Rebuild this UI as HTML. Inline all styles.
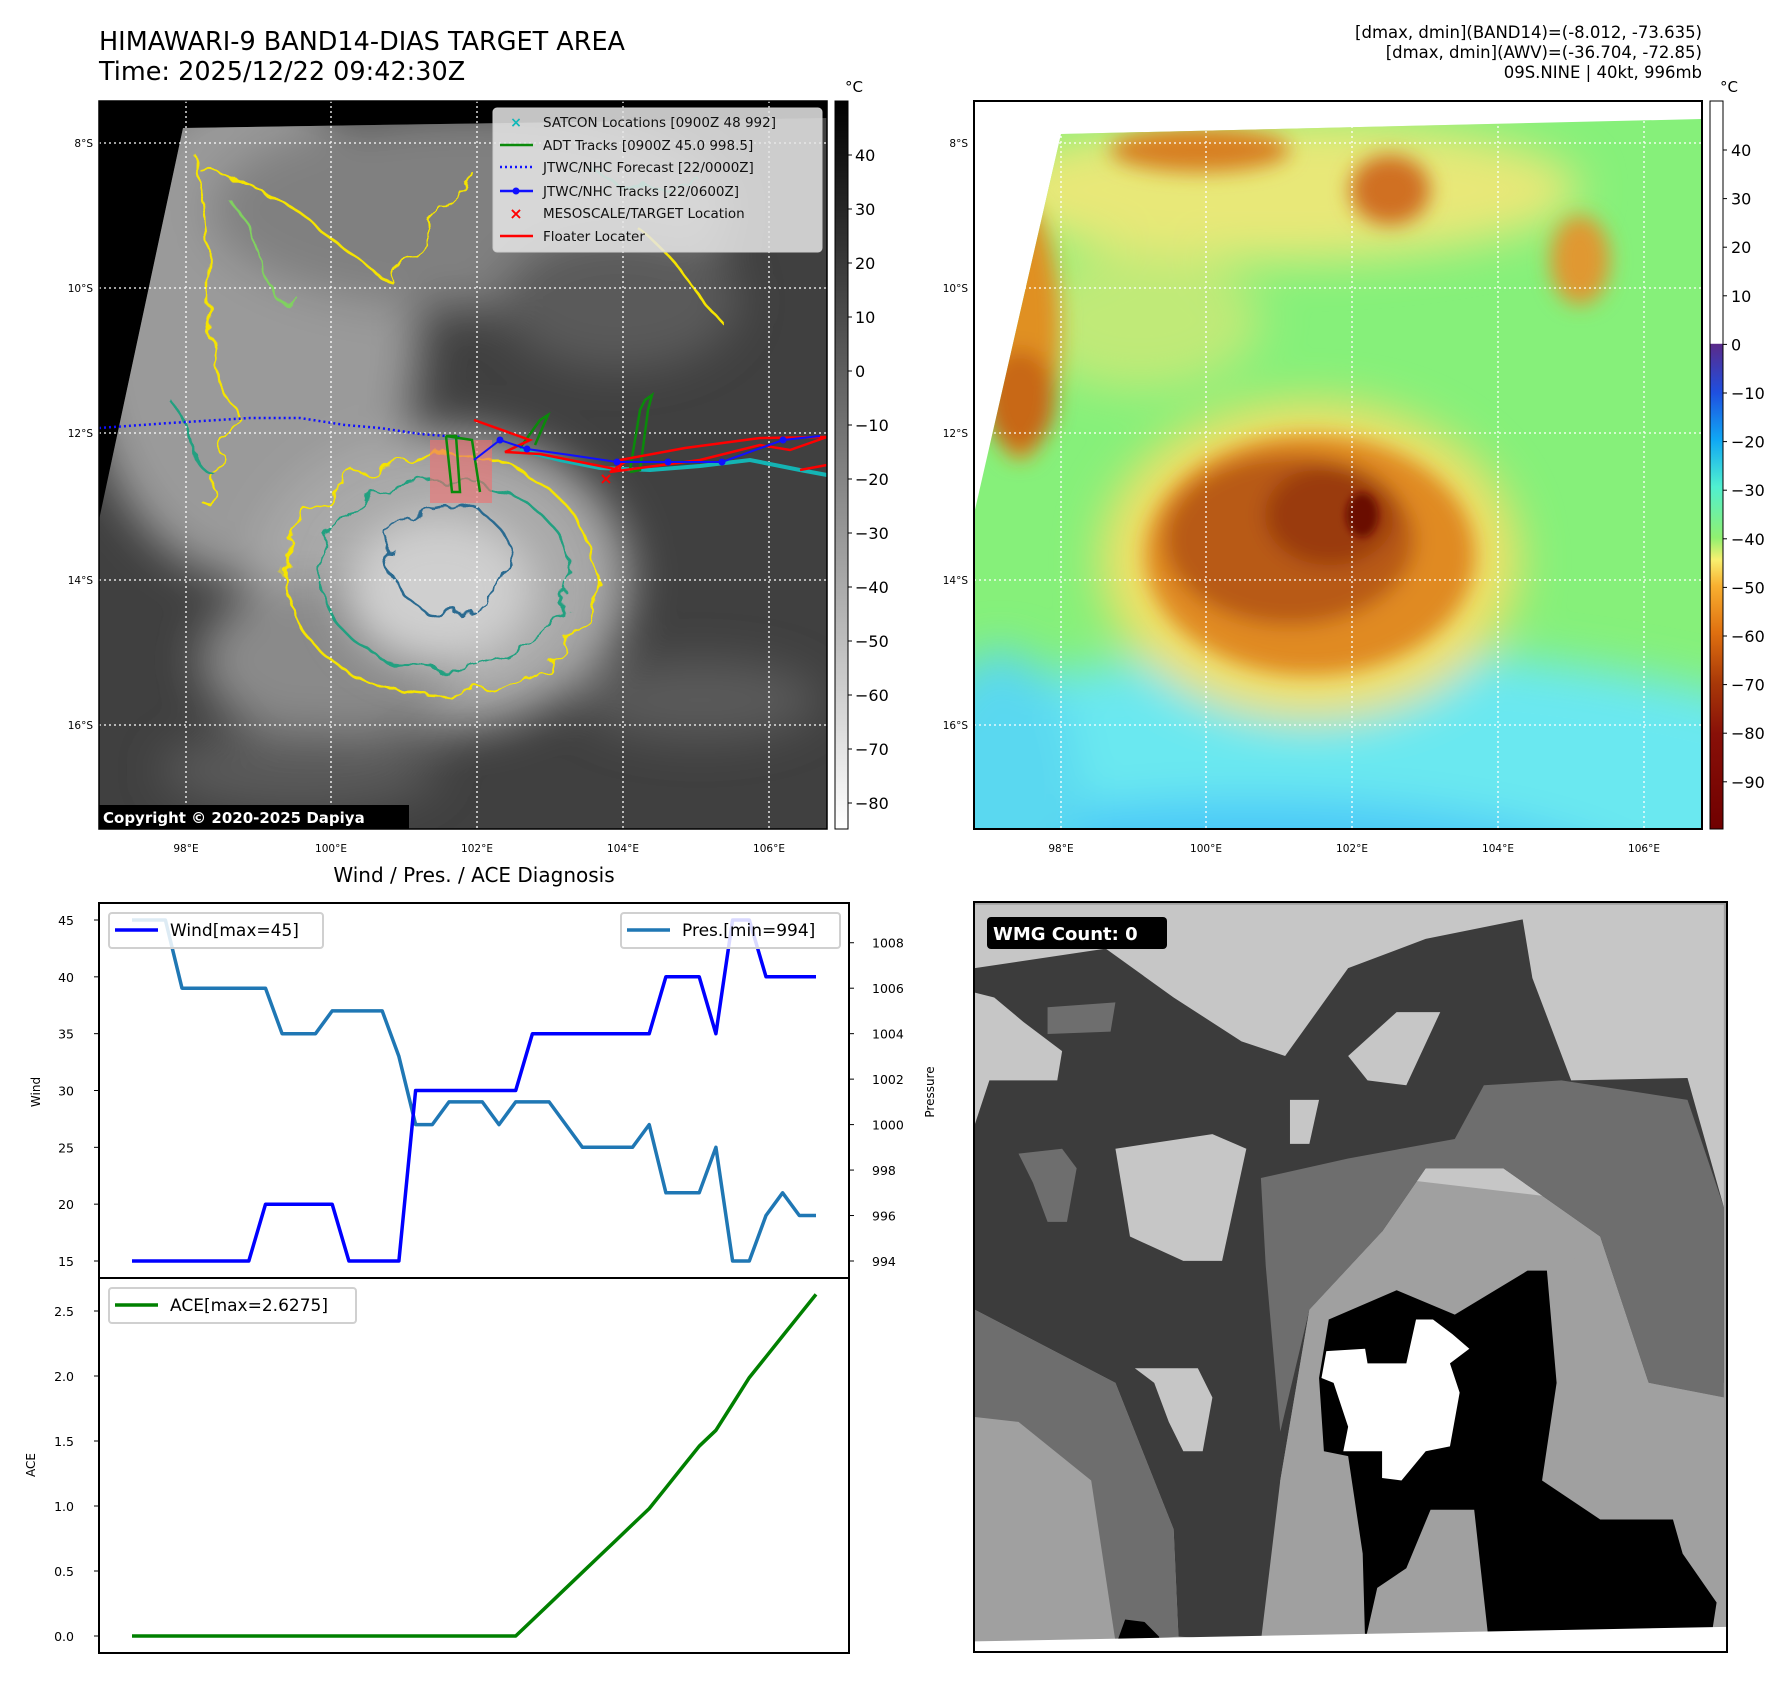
<!DOCTYPE html>
<html><head><meta charset="utf-8"><style>
html,body{margin:0;padding:0;background:#fff;}
svg{display:block;font-family:"DejaVu Sans","Liberation Sans",sans-serif;}
</style></head><body>
<svg id="root" width="1792" height="1690" viewBox="0 0 1792 1690" xmlns="http://www.w3.org/2000/svg">
<defs>
  <filter id="b25" x="-50%" y="-50%" width="200%" height="200%"><feGaussianBlur stdDeviation="22"/></filter>
  <filter id="b12" x="-50%" y="-50%" width="200%" height="200%"><feGaussianBlur stdDeviation="10"/></filter>
  <filter id="b5" x="-50%" y="-50%" width="200%" height="200%"><feGaussianBlur stdDeviation="4"/></filter>
  <filter id="wig" x="-20%" y="-20%" width="140%" height="140%">
    <feTurbulence type="fractalNoise" baseFrequency="0.035" numOctaves="3" seed="4"/>
    <feDisplacementMap in="SourceGraphic" scale="26"/>
  </filter>
  <clipPath id="lclip"><polygon points="183,128 827,118 827,829 99,829 99,520"/></clipPath>
  <clipPath id="rclip"><polygon points="1061,134 1702,119 1702,829 974,829 974,514"/></clipPath>
  <linearGradient id="lcb" x1="0" y1="0" x2="0" y2="1">
    <stop offset="0" stop-color="#000"/><stop offset="1" stop-color="#fff"/>
  </linearGradient>
  <linearGradient id="rcb" x1="0" y1="0" x2="0" y2="1">
    <stop offset="0" stop-color="#fff"/><stop offset="0.333" stop-color="#fff"/>
    <stop offset="0.334" stop-color="#5a2a8a"/><stop offset="0.40" stop-color="#1f4fe0"/>
    <stop offset="0.466" stop-color="#10a8f4"/><stop offset="0.53" stop-color="#50f0d0"/>
    <stop offset="0.60" stop-color="#90f070"/><stop offset="0.63" stop-color="#f8f070"/>
    <stop offset="0.666" stop-color="#f8b030"/><stop offset="0.73" stop-color="#e07010"/>
    <stop offset="0.80" stop-color="#a83808"/><stop offset="0.87" stop-color="#881008"/>
    <stop offset="1" stop-color="#700000"/>
  </linearGradient>
</defs>

<text x="99" y="50" font-size="25.5" fill="#000">HIMAWARI-9 BAND14-DIAS TARGET AREA</text>
<text x="99" y="80" font-size="25.5" fill="#000">Time: 2025/12/22 09:42:30Z</text>
<g font-size="16.5" text-anchor="end" fill="#000">
  <text x="1702" y="38">[dmax, dmin](BAND14)=(-8.012, -73.635)</text>
  <text x="1702" y="58">[dmax, dmin](AWV)=(-36.704, -72.85)</text>
  <text x="1702" y="78">09S.NINE | 40kt, 996mb</text>
</g>

<g>
  <rect x="99" y="101" width="728" height="728" fill="#000"/>
  <g clip-path="url(#lclip)">
    <rect x="99" y="101" width="728" height="728" fill="#404040"/>
    <g filter="url(#b25)">
      <ellipse cx="250" cy="330" rx="170" ry="250" fill="#9a9a9a"/>
      <ellipse cx="470" cy="210" rx="260" ry="100" fill="#808080"/>
      <ellipse cx="620" cy="300" rx="120" ry="70" fill="#5a5a5a"/>
      <ellipse cx="440" cy="580" rx="190" ry="150" fill="#a8a8a8"/>
      <ellipse cx="330" cy="660" rx="130" ry="80" fill="#8a8a8a"/>
      <ellipse cx="700" cy="700" rx="120" ry="40" fill="#5a5a5a"/>
      <ellipse cx="300" cy="770" rx="140" ry="40" fill="#5a5a5a"/>
    </g>
    <ellipse cx="440" cy="590" rx="95" ry="75" fill="#cfcfcf" filter="url(#b25)"/>
    <g fill="none" filter="url(#wig)" stroke-width="2.5">
      <ellipse cx="440" cy="575" rx="155" ry="120" stroke="#f5e400"/>
      <ellipse cx="445" cy="575" rx="125" ry="95" stroke="#20a080"/>
      <ellipse cx="450" cy="560" rx="60" ry="55" stroke="#2a6a90"/>
      <path d="M190,150 C230,260 180,330 240,420 C200,480 230,520 200,500" stroke="#f5e400"/>
      <path d="M200,170 C300,190 330,250 390,280 C420,230 460,210 470,170" stroke="#f5e400"/>
      <path d="M230,200 C280,260 260,320 300,300" stroke="#80d060"/>
      <path d="M640,230 C680,260 700,300 720,320" stroke="#f5e400"/>
      <path d="M170,400 C200,440 190,470 220,480" stroke="#20a080"/>
      <path d="M580,160 C620,190 650,200 700,180" stroke="#20a080"/>
    </g>
  </g>
  <g stroke="#fff" stroke-width="1.3" stroke-dasharray="2,3" fill="none">
    <line x1="99" y1="143" x2="827" y2="143"/><line x1="99" y1="288" x2="827" y2="288"/>
    <line x1="99" y1="433" x2="827" y2="433"/><line x1="99" y1="580" x2="827" y2="580"/>
    <line x1="99" y1="725" x2="827" y2="725"/>
    <line x1="186" y1="101" x2="186" y2="829"/><line x1="331" y1="101" x2="331" y2="829"/>
    <line x1="477" y1="101" x2="477" y2="829"/><line x1="623" y1="101" x2="623" y2="829"/>
    <line x1="769" y1="101" x2="769" y2="829"/>
  </g>
  <rect x="430" y="440" width="62" height="63" fill="#f07070" opacity="0.6"/>
  <polyline points="99,428 170,423 250,418 300,418 345,425 380,428 420,434 460,437" fill="none" stroke="#1010ff" stroke-width="2.5" stroke-dasharray="2,3"/>
  <g fill="none" stroke="#14b4b4" stroke-width="4">
    <polyline points="520,450 560,460 600,468 650,470 700,466 750,460 800,470 827,475"/>
  </g>
  <g fill="none" stroke="#0a8a0a" stroke-width="2.5">
    <polyline points="446,436 452,492 460,492 456,436 446,436 472,440 480,492"/>
    <polyline points="630,470 640,410 645,400 652,395 648,410 640,470 630,472"/>
    <polyline points="520,448 540,420 548,415 535,445"/>
  </g>
  <g fill="none" stroke="#f00" stroke-width="2.5">
    <polyline points="474,420 530,440 505,452 540,454 620,470 620,460 685,448 760,438 827,437 790,450 760,445 700,460 640,468 610,472 625,462"/>
    <polyline points="800,470 827,465"/>
  </g>
  <polyline points="474,460 500,440 527,449 570,455 617,462 668,462 722,462 783,440 820,436" fill="none" stroke="#1010ff" stroke-width="2"/>
  <g fill="#1010ff">
    <circle cx="500" cy="440" r="3.5"/><circle cx="527" cy="449" r="3.5"/><circle cx="617" cy="462" r="3.5"/><circle cx="668" cy="462" r="3.5"/><circle cx="722" cy="462" r="3.5"/><circle cx="783" cy="440" r="3.5"/>
  </g>
  <text x="606" y="484" font-size="16" font-weight="bold" fill="#f00" text-anchor="middle">×</text>
  <g>
    <rect x="493" y="108" width="329" height="144" rx="4" fill="#e6e6e6" fill-opacity="0.85" stroke="#ccc"/>
    <text x="516" y="127" font-size="14" font-weight="bold" fill="#10b8b8" text-anchor="middle">×</text>
    <line x1="500" y1="145" x2="533" y2="145" stroke="#0a8a0a" stroke-width="2.5"/>
    <line x1="500" y1="167" x2="533" y2="167" stroke="#1010ff" stroke-width="2.5" stroke-dasharray="2,3"/>
    <line x1="500" y1="191" x2="533" y2="191" stroke="#1010ff" stroke-width="2.5"/><circle cx="516" cy="191" r="3.5" fill="#1010ff"/>
    <text x="516" y="219" font-size="16" font-weight="bold" fill="#f00" text-anchor="middle">×</text>
    <line x1="500" y1="236" x2="533" y2="236" stroke="#f00" stroke-width="2.5"/>
    <g font-size="13.5" fill="#111">
      <text x="543" y="127">SATCON Locations [0900Z 48 992]</text>
      <text x="543" y="150">ADT Tracks [0900Z 45.0 998.5]</text>
      <text x="543" y="172">JTWC/NHC Forecast [22/0000Z]</text>
      <text x="543" y="196">JTWC/NHC Tracks [22/0600Z]</text>
      <text x="543" y="218">MESOSCALE/TARGET Location</text>
      <text x="543" y="241">Floater Locater</text>
    </g>
  </g>
  <rect x="99" y="805" width="310" height="24" fill="#000"/>
  <text x="103" y="823" font-size="15" font-weight="bold" fill="#fff">Copyright © 2020-2025 Dapiya</text>
  <rect x="99" y="101" width="728" height="728" fill="none" stroke="#000" stroke-width="1.5"/>
</g>
<g font-size="10.5" fill="#000">
  <g text-anchor="end"><text x="93" y="147">8°S</text><text x="93" y="292">10°S</text><text x="93" y="437">12°S</text><text x="93" y="584">14°S</text><text x="93" y="729">16°S</text></g>
  <g text-anchor="middle"><text x="186" y="852">98°E</text><text x="331" y="852">100°E</text><text x="477" y="852">102°E</text><text x="623" y="852">104°E</text><text x="769" y="852">106°E</text></g>
</g>
<g>
  <rect x="835" y="101" width="13" height="728" fill="url(#lcb)" stroke="#000" stroke-width="1"/>
  <text x="845" y="92" font-size="15">°C</text>
  <g id="lcbticks" font-size="16"></g>
</g>

<g>
  <rect x="974" y="101" width="728" height="728" fill="#fff"/>
  <g clip-path="url(#rclip)">
    <rect x="974" y="101" width="728" height="728" fill="#86f07a"/>
    <g filter="url(#b25)">
      <ellipse cx="1340" cy="870" rx="640" ry="220" fill="#6ae8f0"/>
      <ellipse cx="1250" cy="910" rx="420" ry="110" fill="#48c8f8"/>
      <ellipse cx="1000" cy="800" rx="80" ry="150" fill="#5ad8f0"/>
      <ellipse cx="1280" cy="190" rx="300" ry="70" fill="#e8e878"/>
      <ellipse cx="1140" cy="320" rx="120" ry="70" fill="#c0ea78"/>
      <ellipse cx="1310" cy="560" rx="210" ry="160" fill="#f0e068"/>
    </g>
    <g filter="url(#b12)">
      <ellipse cx="1200" cy="150" rx="90" ry="22" fill="#d88020"/>
      <ellipse cx="1390" cy="190" rx="40" ry="35" fill="#d07020"/>
      <ellipse cx="1020" cy="330" rx="40" ry="130" fill="#e09020"/>
      <ellipse cx="1020" cy="400" rx="35" ry="50" fill="#c86818"/>
      <ellipse cx="1580" cy="260" rx="30" ry="45" fill="#e09830"/>
      <ellipse cx="1310" cy="555" rx="165" ry="120" fill="#e08a20"/>
      <ellipse cx="1290" cy="540" rx="125" ry="85" fill="#b85a12"/>
      <ellipse cx="1330" cy="515" rx="65" ry="50" fill="#9a3a0a"/>
    </g>
    <ellipse cx="1362" cy="515" rx="16" ry="22" fill="#6a0a00" filter="url(#b5)"/>
  </g>
  <g stroke="#fff" stroke-width="1.3" stroke-dasharray="2,3" fill="none">
    <line x1="974" y1="143" x2="1702" y2="143"/><line x1="974" y1="288" x2="1702" y2="288"/>
    <line x1="974" y1="433" x2="1702" y2="433"/><line x1="974" y1="580" x2="1702" y2="580"/>
    <line x1="974" y1="725" x2="1702" y2="725"/>
    <line x1="1061" y1="101" x2="1061" y2="829"/><line x1="1206" y1="101" x2="1206" y2="829"/>
    <line x1="1352" y1="101" x2="1352" y2="829"/><line x1="1498" y1="101" x2="1498" y2="829"/>
    <line x1="1644" y1="101" x2="1644" y2="829"/>
  </g>
  <rect x="974" y="101" width="728" height="728" fill="none" stroke="#000" stroke-width="2"/>
</g>
<g font-size="10.5" fill="#000">
  <g text-anchor="end"><text x="968" y="147">8°S</text><text x="968" y="292">10°S</text><text x="968" y="437">12°S</text><text x="968" y="584">14°S</text><text x="968" y="729">16°S</text></g>
  <g text-anchor="middle"><text x="1061" y="852">98°E</text><text x="1206" y="852">100°E</text><text x="1352" y="852">102°E</text><text x="1498" y="852">104°E</text><text x="1644" y="852">106°E</text></g>
</g>
<g>
  <rect x="1710" y="101" width="13" height="728" fill="url(#rcb)" stroke="#000" stroke-width="1"/>
  <text x="1720" y="92" font-size="15">°C</text>
  <g id="rcbticks" font-size="16"></g>
</g>

<g>
  <clipPath id="wclip"><rect x="974" y="902" width="753" height="750"/></clipPath>
  <g clip-path="url(#wclip)">
    <g transform="translate(970,895) scale(0.4848,0.4879)">
      <rect x="0" y="0" width="1560" height="1560" fill="#a0a0a0"/>
      <polygon points="10,20 1555,20 1555,660 10,480" fill="#c6c6c6"/>
      <polygon points="10,150 280,110 420,210 560,300 650,330 780,150 940,90 1140,50 1160,170 1240,380 1480,375 1555,640 1555,1000 1400,1000 1300,700 1100,560 940,560 850,690 700,850 640,1200 600,1530 430,1520 420,1300 300,1000 10,850" fill="#3c3c3c"/>
      <polygon points="10,200 50,210 110,260 190,320 180,380 40,380 10,470" fill="#c6c6c6"/>
      <polygon points="10,850 300,1000 420,1300 430,1520 300,1530 250,1200 100,1080 10,1070" fill="#6e6e6e"/>
      <polygon points="600,580 780,540 1000,500 1060,390 1220,380 1480,420 1555,640 1555,1030 1400,1000 1300,700 1100,560 940,560 850,690 700,850 640,1100 610,760" fill="#6e6e6e"/>
      <polygon points="700,850 850,690 1050,690 1300,760 1400,1000 1555,1030 1555,1560 820,1560 650,1560 640,1200" fill="#a0a0a0"/>
      <polygon points="740,870 880,810 1000,860 1150,770 1190,770 1210,1000 1180,1200 1300,1280 1450,1280 1470,1350 1540,1450 1530,1515 1070,1530 1040,1260 950,1260 900,1380 840,1420 815,1530 810,1350 780,1150 730,1140 720,990" fill="#000"/>
      <polygon points="735,935 815,930 820,960 900,960 920,870 955,870 995,900 1030,930 990,960 1010,1020 990,1130 940,1140 890,1200 850,1195 850,1140 770,1140 780,1090 750,1000 725,990" fill="#fff"/>
      <polygon points="300,520 500,490 570,520 520,750 440,750 330,700" fill="#c6c6c6"/>
      <polygon points="340,970 470,970 500,1030 480,1140 440,1140 410,1080 380,1000" fill="#c6c6c6"/>
      <polygon points="780,330 880,240 970,240 900,390 820,380" fill="#c6c6c6"/>
      <polygon points="100,530 190,520 220,560 200,670 160,670 130,590" fill="#6e6e6e"/>
      <polygon points="160,230 300,220 290,280 160,285" fill="#6e6e6e"/>
      <polygon points="300,1540 320,1485 360,1490 390,1520 390,1560 300,1560" fill="#000"/>
      <polygon points="660,420 720,420 700,510 660,510" fill="#c6c6c6"/>
      <polygon points="0,1530 1560,1500 1560,1560 0,1560" fill="#fff"/>
    </g>
  </g>
  <rect x="987" y="917" width="180" height="32" rx="4" fill="#000"/>
  <text x="993" y="940" font-size="18" font-weight="bold" fill="#fff">WMG Count: 0</text>
  <rect x="974" y="902" width="753" height="750" fill="none" stroke="#000" stroke-width="2"/>
</g>

<text x="474" y="882" font-size="20" text-anchor="middle">Wind / Pres. / ACE Diagnosis</text>
<g id="chart"></g>

<script>
const windVals = [15,15,15,15,15,15,15,15,20,20,20,20,20,15,15,15,15,30,30,30,30,30,30,30,35,35,35,35,35,35,35,35,40,40,40,35,45,45,40,40,40,40];
const presVals = [1009,1009,1009,1006,1006,1006,1006,1006,1006,1004,1004,1004,1005,1005,1005,1005,1003,1000,1000,1001,1001,1001,1000,1001,1001,1001,1000,999,999,999,999,1000,997,997,997,999,994,994,996,997,996,996];
const aceVals = [0,0,0,0,0,0,0,0,0,0,0,0,0,0,0,0,0,0,0,0,0,0,0,0,0.1225,0.245,0.3675,0.49,0.6125,0.735,0.8575,0.98,1.14,1.30,1.46,1.5825,1.785,1.9875,2.1475,2.3075,2.4675,2.6275];
const windTicks = [15,20,25,30,35,40,45];
const presTicks = [994,996,998,1000,1002,1004,1006,1008];
const aceTicks = [0.0,0.5,1.0,1.5,2.0,2.5];
const cbLeftTicks = [40,30,20,10,0,-10,-20,-30,-40,-50,-60,-70,-80];
const cbRightTicks = [40,30,20,10,0,-10,-20,-30,-40,-50,-60,-70,-80,-90];

const NS='http://www.w3.org/2000/svg';
function mk(tag, attrs, parent){const e=document.createElementNS(NS,tag);for(const k in attrs)e.setAttribute(k,attrs[k]);parent.appendChild(e);return e;}
const fmtNeg = v => (v<0?'\u2212'+Math.abs(v):String(v));

const lcb=document.getElementById('lcbticks');
const lcbY = v => 155 + (40 - v) * 5.4;
cbLeftTicks.forEach(v=>{
  const l=mk('line',{x1:848,x2:852,y1:lcbY(v),y2:lcbY(v),stroke:'#000'},lcb);
  
  
  const t=mk('text',{x:855,y:lcbY(v)+6},lcb);t.textContent=fmtNeg(v);
  
  
});
const rcb=document.getElementById('rcbticks');
const rcbY = v => 150 + (40 - v) * 4.86;
cbRightTicks.forEach(v=>{
  const l=mk('line',{x1:1723,x2:1727,y1:rcbY(v),y2:rcbY(v),stroke:'#000'},rcb);
  
  
  const t=mk('text',{x:1731,y:rcbY(v)+6},rcb);t.textContent=fmtNeg(v);
  
  
});

const g=document.getElementById('chart');
const n=windVals.length;
const xS = i => 132 + i * (816 - 132) / (n - 1);
const yWind = v => 1261 - (v - 15) * (1261 - 920) / 30;
const yPres = p => 1261 - (p - 994) * (1261 - 920) / 15;
const yAce = a => 1636 - a * (1636 - 1311) / 2.5;

function pts(vals, yf){return vals.map((v,i)=>xS(i).toFixed(1)+','+yf(v).toFixed(1)).join(' ');}

const pl=mk('polyline',{points:pts(presVals,yPres),fill:'none',stroke:'#1f77b4','stroke-width':3.5,'stroke-linejoin':'round'},g);


const wl=mk('polyline',{points:pts(windVals,yWind),fill:'none',stroke:'#0000ff','stroke-width':3.5,'stroke-linejoin':'round'},g);


const al=mk('polyline',{points:pts(aceVals,yAce),fill:'none',stroke:'#008000','stroke-width':3.5,'stroke-linejoin':'round'},g);



windTicks.forEach(v=>{
  const y=yWind(v);
  const l=mk('line',{x1:94,x2:99,y1:y,y2:y,stroke:'#000'},g);
  
  
  const t=mk('text',{x:74,y:y+5,'font-size':12.5,'text-anchor':'end'},g);t.textContent=v;
  
  
});
presTicks.forEach(v=>{
  const y=yPres(v);
  const l=mk('line',{x1:849,x2:854,y1:y,y2:y,stroke:'#000'},g);
  
  
  const t=mk('text',{x:872,y:y+5,'font-size':12.5},g);t.textContent=v;
  
  
});
aceTicks.forEach(v=>{
  const y=yAce(v);
  const l=mk('line',{x1:94,x2:99,y1:y,y2:y,stroke:'#000'},g);
  
  
  const t=mk('text',{x:74,y:y+5,'font-size':12.5,'text-anchor':'end'},g);t.textContent=v.toFixed(1);
  
  
});

const f1=mk('rect',{x:99,y:903,width:750,height:375,fill:'none',stroke:'#000','stroke-width':2},g);


const f2=mk('rect',{x:99,y:1278,width:750,height:375,fill:'none',stroke:'#000','stroke-width':2},g);



const yl1=mk('text',{x:40,y:1092,'font-size':12,'text-anchor':'middle',transform:'rotate(-90 40 1092)'},g);yl1.textContent='Wind';


const yl2=mk('text',{x:35,y:1465,'font-size':12,'text-anchor':'middle',transform:'rotate(-90 35 1465)'},g);yl2.textContent='ACE';


const yl3=mk('text',{x:934,y:1092,'font-size':12,'text-anchor':'middle',transform:'rotate(-90 934 1092)'},g);yl3.textContent='Pressure';



function legend(name,x,y,w,color,label){
  const lg=mk('g',{},g);
  
  
  mk('rect',{x:x,y:y,width:w,height:35,rx:3,fill:'#fff','fill-opacity':0.85,stroke:'#d0d0d0','stroke-width':2},lg);
  mk('line',{x1:x+6,x2:x+49,y1:y+17,y2:y+17,stroke:color,'stroke-width':3.5},lg);
  const t=mk('text',{x:x+61,y:y+23,'font-size':17},lg);t.textContent=label;
}
legend('wind-legend',109,913,214,'#0000ff','Wind[max=45]');
legend('pressure-legend',621,913,219,'#1f77b4','Pres.[min=994]');
legend('ace-legend',109,1288,247,'#008000','ACE[max=2.6275]');
</script>
</svg>
</body></html>
